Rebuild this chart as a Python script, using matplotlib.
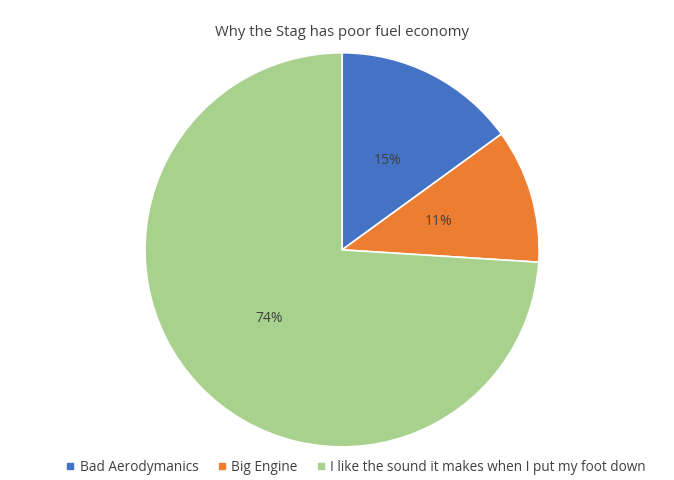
import matplotlib.pyplot as plt
from matplotlib.lines import Line2D

plt.rcParams["font.family"] = ["Open Sans", "DejaVu Sans"]

labels = ["Bad Aerodymanics", "Big Engine", "I like the sound it makes when I put my foot down"]
values = [15, 11, 74]
colors = ["#4472C4", "#ED7D31", "#A9D18E"]

fig = plt.figure(figsize=(6.74, 4.8), dpi=100)
ax = fig.add_axes([0.215, 0.069, 0.585, 0.821])

wedges, texts, autotexts = ax.pie(
    values, colors=colors, startangle=90, counterclock=False,
    autopct="%1.0f%%", pctdistance=0.51,
    wedgeprops={"edgecolor": "white", "linewidth": 1.2},
    textprops={"fontsize": 10, "color": "#404040"},
)
ax.set_xlim(-1, 1)
ax.set_ylim(-1, 1)
ax.set_aspect("equal")

fig.text(0.507, 0.933, "Why the Stag has poor fuel economy",
         ha="center", va="center", fontsize=10.7, color="#404040")

handles = [Line2D([], [], marker="s", linestyle="", markersize=5,
                  markerfacecolor=c, markeredgecolor=c) for c in colors]
fig.legend(handles, labels, loc="center", bbox_to_anchor=(0.527, 0.027),
           ncol=3, frameon=False, fontsize=9.8, labelcolor="#404040",
           handlelength=0.8, handletextpad=0.3, columnspacing=1.3)

fig.savefig("out.png", dpi=100)
